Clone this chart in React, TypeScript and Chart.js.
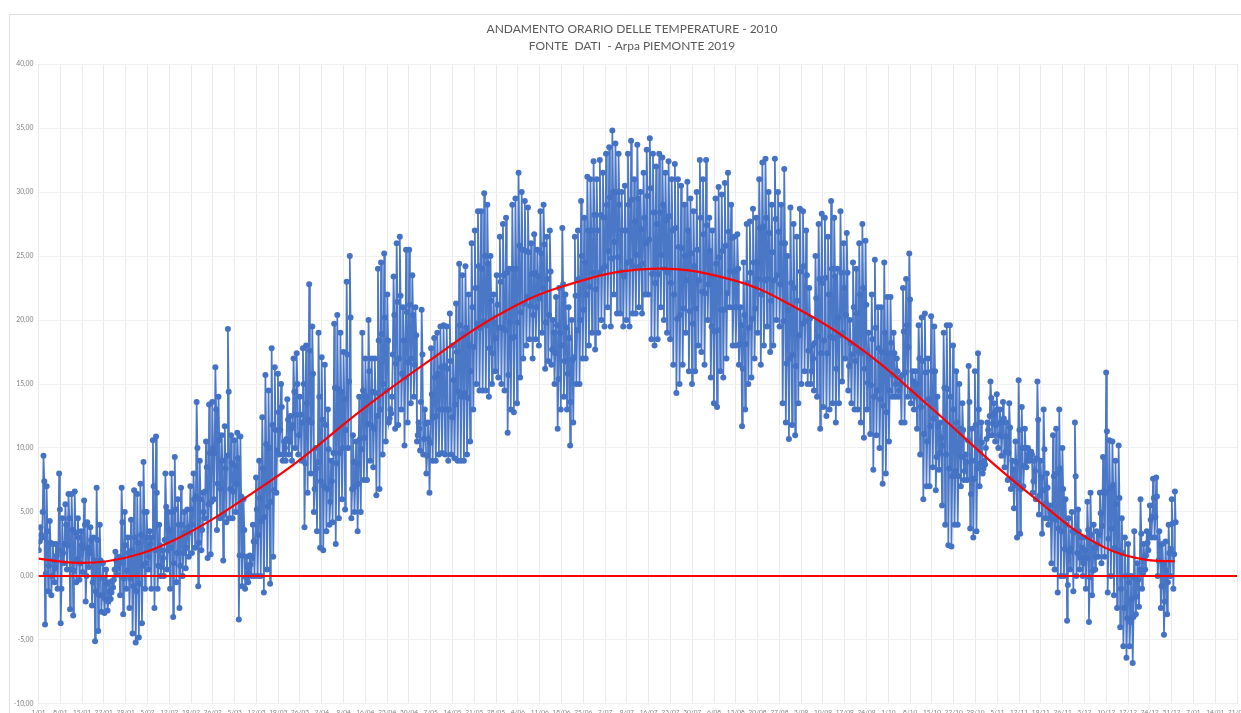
import React, { useEffect, useRef } from "react";
import { Chart, registerables } from "chart.js";

Chart.register(...registerables);

const titleLines = ["ANDAMENTO ORARIO DELLE TEMPERATURE - 2010", "FONTE  DATI  - Arpa PIEMONTE 2019"];

const tickLabels = [
  "1/01","8/01","15/01","22/01","29/01","5/02","12/02","19/02","26/02","5/03","12/03","19/03","26/03",
  "2/04","9/04","16/04","23/04","30/04","7/05","14/05","21/05","28/05","4/06","11/06","18/06","25/06",
  "2/07","9/07","16/07","23/07","30/07","6/08","13/08","20/08","27/08","3/09","10/09","17/09","24/09",
  "1/10","8/10","15/10","22/10","29/10","5/11","12/11","19/11","26/11","3/12","10/12","17/12","24/12","31/12",
  "7/01","14/01","21/01",
];

const dailyHigh = [
  3.8,9.4,7,4.3,2.5,2.5,8,4.5,
  5.6,6.4,6.4,6.6,4.5,3.5,5.9,4.2,3.8,3,
  6.9,4,1,0.5,-0.5,-0.4,1.9,1.5,6.9,5,
  3,4.4,6.7,6.4,7.2,8.9,5,3.5,10.6,10.9,
  4,2,8,5,8,9.3,6,6.9,5,5.2,
  7,8,13.6,9,6.5,10.5,13.4,13.6,16.3,14,
  11,11.7,19.3,11,10.6,11.2,10.9,6,
  1.5,1.6,4,7.7,9,12.4,15.7,14.5,17.8,16.3,15.8,15,10.5,13.8,12.5,17,17.4,14,17.8,18,
  22.8,19.5,10,19,17.1,16.5,13,9,19.7,20.4,19,17.5,23,25,11,10.5,14,19,17,20,17,17,
  24,24.5,25.2,22,13,23.4,26,26.5,21,25.5,25.5,23.5,21,12,20.8,13,12,
  17.8,18.6,19,19.5,19.6,19.5,20.5,18,21.3,24.4,23.5,24.2,22,26,27,28.5,28.5,29.9,29,25,
  22,23.5,26.5,27.5,28,24,29,29.5,31.5,30,29.3,28.8,26,26.7,25.5,28.5,29,26.5,27,20,
  21.8,22.5,27.2,22,21,20,26.5,27,29.3,28,31.2,31,32.4,31,32.5,31.5,33,33.5,34.8,33.8,33,30,30.5,33,
  34,31,33.7,30,31.5,33.3,34.2,33,32,33,
  32.7,31.5,32.4,31,32.2,31,30.5,29,30.8,29.5,
  28.5,30,32.5,31,32.5,28,27,29.5,30.4,29.8,
  30.7,31.5,29,26.5,26.7,21,24.5,27.5,27.7,28.7,
  28,31,32.3,32.6,30,29,32.6,30,29,31.8,
  25,28.8,27.5,26.5,28.7,28.5,27,22.5,18,25,
  27.5,28.3,28,26.5,
  29.3,28,24,28.5,26,26.8,
  20,24.5,24,26,27.5,26.2,19,22,24.7,21,
  21,24.5,21.8,21.8,19,17,15.5,22.5,23.2,25.2,
  16,16,19.6,20.2,20.5,17,20.3,19.5,14,12,
  19,19.6,19.6,18,16,15,13.5,9.5,16.4,11.5,
  16,17.4,12,9,12,15.2,13.5,14.2,13,13.6,
  12,13.5,9,10.5,15.3,13.2,
  11.5,10,9.7,9,15.2,9,13,8,5.5,11,
  11.5,13,10,6,4.5,5,12,5.2,3,3,
  5.8,6.5,4,3.5,6.5,9.3,15.9,10.6,10.5,9,
  10.2,4.5,3,2.5,0,3.5,1,6,2.5,3.5,
  5.5,7.6,7.7,3.5,2.5,2.7,4,6,6.6,
];

const dailyLow = [
  2,3,-3.8,-1.2,-1.5,-0.5,-1,-3.7,
  1,0.5,-2.6,-3.1,-0.5,-0.3,0.3,-2,0.7,-2.3,
  -5.1,-4.3,-2.8,-2.9,-2.7,-1.8,-0.3,0.1,-1.5,-3,
  -1,-2.5,-4.5,-5.2,-4.8,-3.7,-1,0.5,-1,-2.5,
  -1,0,0,0.5,-1,-3.2,-0.5,-2.5,0,0.6,
  1.5,1.8,2.2,-0.8,2,4.5,1.4,1.7,6,3.6,
  4.5,1.2,4.2,4.5,4.5,5,-3.4,-0.8,
  -1,-0.5,0,0,0,0,-1.3,0.5,-0.6,1.5,6.5,9.5,9,9,9.5,9,10,9.5,9,3.8,
  6.5,8,5,3.5,2.2,2,3.5,4,4.2,2.5,4.5,6,5.2,10,4.5,5,3.5,5,7.5,7.5,9,8.5,
  6.3,6.8,9.5,10.5,12,14,11.5,11.8,13,10.2,12,13.5,14,10.5,9.8,9.5,8,
  6.5,9,9,9.5,9.6,9.5,9,9.5,9.2,9,9,9,9.5,10.5,13,15,14.5,14.5,14.5,14,
  15,16,15.5,15,14.5,11.2,13,12.8,13.5,15.5,17,18,18.5,17,18.5,18,19,16.2,16.8,16.5,
  15,11.5,13,14,13,10.2,12,15,15,17,17,18,19,17.7,19,20,19.5,21,19.5,22,20.5,20.5,19.5,20,
  19.5,20.5,20.5,21,20.5,22,22,18.5,18,18.5,
  21,20,19,18.5,16.5,14.3,15,16.5,19,16,
  15,16,18,17.5,16.5,20,15.5,13.5,13.2,16,
  15.5,17,21,18,18,16.5,11.7,13,15,15.5,
  17,19,16.5,18,19.5,17.5,18,20,19.5,13.5,
  12,10.7,11.8,11,13.5,15,16,15,15,14.5,
  14,11.5,13.2,12.5,
  13,13.5,12,13.5,15.2,17,
  14.5,13.5,13,13,12,10.8,13,11.1,8.3,11,
  10,7.2,8,10.5,14,14,14,12,12,14,
  13.5,13,11.5,9.5,6,7,7,8.5,6.7,8.3,
  5.5,4,2.4,2.3,4,4,7,7.5,7.5,3.7,
  3,3.5,7,8,10,11,11,10.5,10,9.4,
  8.5,7.5,6.8,5.3,3,3.3,
  7,8.5,9,6.5,6,4.8,3.3,4.5,4,1,
  0.5,-1.3,0,0,-3.5,0.5,-1.2,0,0.5,0,
  -1,-3.6,-1.5,0.5,1.5,1,1.5,-1.3,0,-1.5,
  -2.5,-4,-5.5,-6.4,-5.5,-6.8,-3,-2.4,-1,0.5,
  2,3,3,0,-2.5,-4.6,-3,0,-1,
];

const dailyMorning = [
  2.7,5,0.2,0.8,0,0.6,2,-1,
  2.5,2.4,0.5,0.4,1.3,1,2.2,0,1.8,-0.5,
  -1.2,-1.5,-1.5,-1.8,-2,-1.3,0.5,0.6,1.4,-0.2,
  0.4,-0.2,-0.8,-1.2,-0.6,0.8,1,1.5,3,2,
  0.8,0.7,2.8,2,2.2,1,1.8,0.8,1.8,2.2,
  3.4,4,6.2,2.6,3.6,6.6,5.6,5.8,9.6,7.2,
  6.8,4.8,9.4,6.8,6.6,7.2,1.6,1.6,
  -0.1,0.2,1.4,2.7,3.2,4.3,4.6,5.4,5.8,6.7,9.8,11.4,9.5,10.7,10.5,11.8,12.6,11,12,8.8,
  12.2,12,6.8,8.9,7.4,7,6.8,5.8,9.6,8.8,9.6,10,11.4,15.2,6.8,7,7.2,9.9,10.8,11.9,11.8,11.5,
  12.5,13,15,14.5,12.3,17.3,16.6,17,15.8,15.5,16.7,17,16.5,11,13.6,10.7,9.4,
  10.4,12.4,12.5,13,13,13,13,12.4,13.4,14.4,14,14.3,13.9,16,17.9,19.7,19.4,19.9,19.6,17.8,
  17.4,18.6,19.4,19.4,19.2,15.7,18.6,18.7,19.8,20.6,21.3,21.8,21.1,20.4,21,21.7,22.5,19.8,20.4,17.7,
  17.4,15.4,18,16.8,15.8,13.6,17.1,19.2,20,20.8,22,22.6,23.7,22.4,23.7,24,24.2,25.4,24.8,26.1,24.9,23.8,23.4,24.5,
  24.6,24.2,25.1,24.2,24.4,26,26.3,23.6,22.9,23.6,
  25.1,24,23.7,22.9,22,20.1,20.4,20.9,23.1,20.7,
  19.7,20.9,23.1,22.2,22.1,22.8,19.5,19.1,19.2,20.8,
  20.8,22.1,23.8,21,21,18.1,16.2,18.1,19.4,20.1,
  20.9,23.2,22,23.1,23.2,21.5,23.1,23.5,22.8,19.9,
  16.6,17,17.3,16.4,18.8,19.7,19.9,17.6,16,18.2,
  18.7,17.4,18.4,17.4,
  18.7,18.6,16.2,18.8,19,20.4,
  16.4,17.3,16.8,17.5,17.4,16.2,15.1,14.9,14,14.5,
  13.8,13.3,12.8,14.5,15.7,15,14.5,15.7,15.9,17.9,
  14.4,14,14.3,13.2,11.1,10.5,11.7,12.3,9.3,9.6,
  10.2,9.5,8.4,7.8,8.2,7.8,9.3,8.2,10.6,6.4,
  7.6,8.4,8.8,8.4,10.7,12.5,11.9,11.8,11,10.9,
  9.7,9.6,7.6,7.1,7.3,6.8,
  8.6,9,9.2,7.4,9.2,6.3,6.7,5.7,4.5,4.5,
  4.4,3.7,3.5,2.1,-0.7,2.1,3.4,1.8,1.4,1,
  1.4,-0.1,0.4,1.5,3.2,3.9,6.5,2.9,3.7,2.2,
  2,-1,-2.5,-3.3,-3.6,-3.2,-1.6,0.5,0.2,1.6,
  3.2,4.6,4.6,1.2,-0.8,-2,-0.5,2.1,1.7,
];

const dailyEvening = [
  3.2,7.4,3.5,2.6,1.2,1.6,5.2,1.8,
  4,4.5,3.6,3.4,3,2.4,4,2.2,2.8,1.2,
  2.8,1.2,-0.2,-0.6,-1.2,-0.9,1.2,1,4.2,2.4,
  1.8,2,3,2.6,3.2,5,3,2.5,7,6.5,
  2.4,1.4,5.4,3.6,5,5.2,4,4,3.4,3.8,
  5.2,6,10,6,5,8.5,9.6,10,13,10.6,
  9,8.4,14.4,8.8,8.6,9.2,6.2,3.6,
  0.7,0.9,2.7,5.2,6.1,8.4,10.3,10,11.8,11.4,12.8,13.2,10,12.2,11.5,14.4,15,12.6,15,13.5,
  17.6,15.8,8.4,14,12.2,11.8,9.9,7.4,14.7,14.6,14.4,13.8,17.3,20.2,8.9,8.8,10.7,14.5,14,16,14.4,14.3,
  18.4,18.9,20.2,18.4,12.7,20.4,21.4,21.9,18.4,20.6,21.2,20.4,18.8,11.5,17.3,11.9,10.7,
  14.2,15.5,15.8,16.3,16.4,16.2,16.8,15.3,17.5,19.6,18.9,19.4,18,21,22.5,24.2,24,25,24.4,21.5,
  19.8,21.2,23,23.5,23.7,19.8,24,24,25.8,25.5,25.4,25.3,23.6,23.7,23.4,25.2,25.9,23.2,23.8,19,
  19.6,19,22.8,19.4,18.6,16.9,21.9,23.2,25,24.5,27,27,28.2,27,28.2,28,29,29.6,30,30,29,27,27,29,
  29.4,27.7,29.5,27.1,28,29.7,30.3,28.4,27.5,28.4,
  29,27.8,28.1,27,27.2,25.7,25.6,25,27,25.2,
  24.2,25.5,28,26.7,27.4,25.4,23.4,24.4,24.9,25.4,
  25.8,26.9,26.4,23.8,24,19.6,20.4,22.9,23.7,24.5,
  24.5,27.2,27.3,28,26.8,25.3,27.9,26.9,26,26,
  20.8,22.9,22.5,21.5,23.8,24.2,23.5,20.1,17,21.7,
  23.2,22.9,23.3,22,
  24,23.4,20.2,23.7,22.5,23.7,
  18.2,21,20.5,22,22.5,21.2,17,18.5,19.4,17.8,
  17.5,19,17.4,18.2,17.4,16,15,19.1,19.6,21.6,
  15.2,15,17,16.8,15.9,13.8,16,16,11.7,10.8,
  14.7,14.6,14,13,12,11.5,11.4,8.9,13.6,9,
  11.8,13,10.4,8.7,11.4,13.9,12.7,13,12,12.3,
  10.9,11.6,8.3,8.9,11.4,10,
  10,9.5,9.5,8.2,12.2,7.7,9.9,6.9,5,7.8,
  8,8.4,6.8,4,1.9,3.5,7.8,3.5,2.2,2,
  3.6,3.2,2.2,2.5,4.9,6.6,11.3,6.8,7.1,5.6,
  6.1,1.8,0,-0.5,-1.8,-0.2,-0.3,3.3,1.4,2.6,
  4.4,6.1,6.2,2.4,0.9,0.4,1.8,4.1,4.2,
];

const trendDays = [0,11,22,33,44,55,67,83,104,126,147,168,196,222,243,265,286,308,324,334,345,356,365];
const trendValues = [1.35,1.04,1.15,1.75,2.85,4.3,6.2,8.9,13,16.9,20.3,22.6,24,23.2,21,17.6,13.3,8.5,5.3,3.4,1.95,1.25,1.15];

const zeroDays = [0, 385];
const zeroValues = [0, 0];

const DAY_SCALE = 1.004;

const hourly: { x: number; y: number }[] = [];
dailyLow.forEach((low, i) => {
  hourly.push({ x: (i + 0.1) * DAY_SCALE, y: low });
  hourly.push({ x: (i + 0.35) * DAY_SCALE, y: dailyMorning[i] });
  hourly.push({ x: (i + 0.6) * DAY_SCALE, y: dailyHigh[i] });
  hourly.push({ x: (i + 0.85) * DAY_SCALE, y: dailyEvening[i] });
});

const framePlugin = {
  id: "frame",
  beforeDraw(chart: any) {
    const { ctx } = chart;
    ctx.save();
    ctx.strokeStyle = "#dedede";
    ctx.lineWidth = 1;
    ctx.beginPath();
    ctx.moveTo(9.5, 713);
    ctx.lineTo(9.5, 14.5);
    ctx.lineTo(1241, 14.5);
    ctx.stroke();
    ctx.restore();
  },
  afterLayout(chart: any) {
    chart.titleBlock.left += 13.25;
    chart.titleBlock.right += 13.25;
  },
};

export default function App() {
  const ref = useRef<HTMLCanvasElement>(null);
  useEffect(() => {
    const chart = new Chart(ref.current!, {
      type: "line",
      data: {
        datasets: [
          {
            label: "Temperatura oraria",
            data: hourly,
            borderColor: "#4a77c6",
            borderWidth: 1.7,
            pointBackgroundColor: "#4472C4",
            pointBorderColor: "#4472C4",
            pointBorderWidth: 0,
            pointRadius: 3,
            tension: 0,
            order: 3,
          },
          {
            label: "Zero",
            data: zeroDays.map((d, i) => ({ x: d, y: zeroValues[i] })),
            borderColor: "#FF0000",
            borderWidth: 2,
            pointRadius: 0,
            order: 2,
          },
          {
            label: "Andamento",
            data: trendDays.map((d, i) => ({ x: d, y: trendValues[i] })),
            borderColor: "#FF0000",
            borderWidth: 2.2,
            pointRadius: 0,
            tension: 0.4,
            order: 1,
          },
        ],
      },
      options: {
        responsive: false,
        animation: false,
        events: [],
        layout: { padding: { left: 0, right: 3.5, top: 0, bottom: 0 } },
        plugins: {
          legend: { display: false },
          tooltip: { enabled: false },
          title: {
            display: true,
            text: titleLines,
            color: "#595959",
            font: { family: "Lato", size: 12, weight: "normal", lineHeight: 1.42 },
            padding: { top: 20.5, bottom: 9.5 },
          },
        },
        scales: {
          x: {
            type: "linear",
            min: 0,
            max: 385,
            afterFit: (s: any) => { s.height = 9; s.paddingLeft = 0; s.paddingRight = 0; },
            afterBuildTicks: (s: any) => {
              const t = [];
              for (let v = 0; v <= 385; v++) t.push({ value: v });
              s.ticks = t;
            },
            border: { display: false },
            grid: {
              drawTicks: false,
              color: (c: any) => (c.tick && c.tick.value % 7 === 0 ? "#eaeaea" : "#f8f8f8"),
              lineWidth: 1,
            },
            ticks: {
              autoSkip: false,
              maxRotation: 0,
              minRotation: 0,
              padding: 4,
              color: "#808080",
              font: { family: "Lato", size: 6.5 },
              callback: (v: any) => (Number(v) % 7 === 0 ? tickLabels[Number(v) / 7] : null),
            },
          },
          y: {
            min: -10,
            max: 40,
            afterFit: (s: any) => { s.width = 38.5; },
            border: { display: false },
            grid: { drawTicks: false, color: "#f0f0f0" },
            ticks: {
              stepSize: 5,
              padding: 5,
              color: "#808080",
              font: { family: "Lato", size: 6.8 },
              callback: (v: any) => Number(v).toFixed(2).replace(".", ","),
            },
          },
        },
      },
      plugins: [framePlugin],
    } as any);
    return () => chart.destroy();
  }, []);
  return (
    <div style={{ position: "fixed", left: 0, top: 0, width: 1241, height: 713, overflow: "hidden", background: "#fff" }}>
      <canvas ref={ref} width={1241} height={713} style={{ display: "block", filter: "blur(0.4px)" }} />
    </div>
  );
}
